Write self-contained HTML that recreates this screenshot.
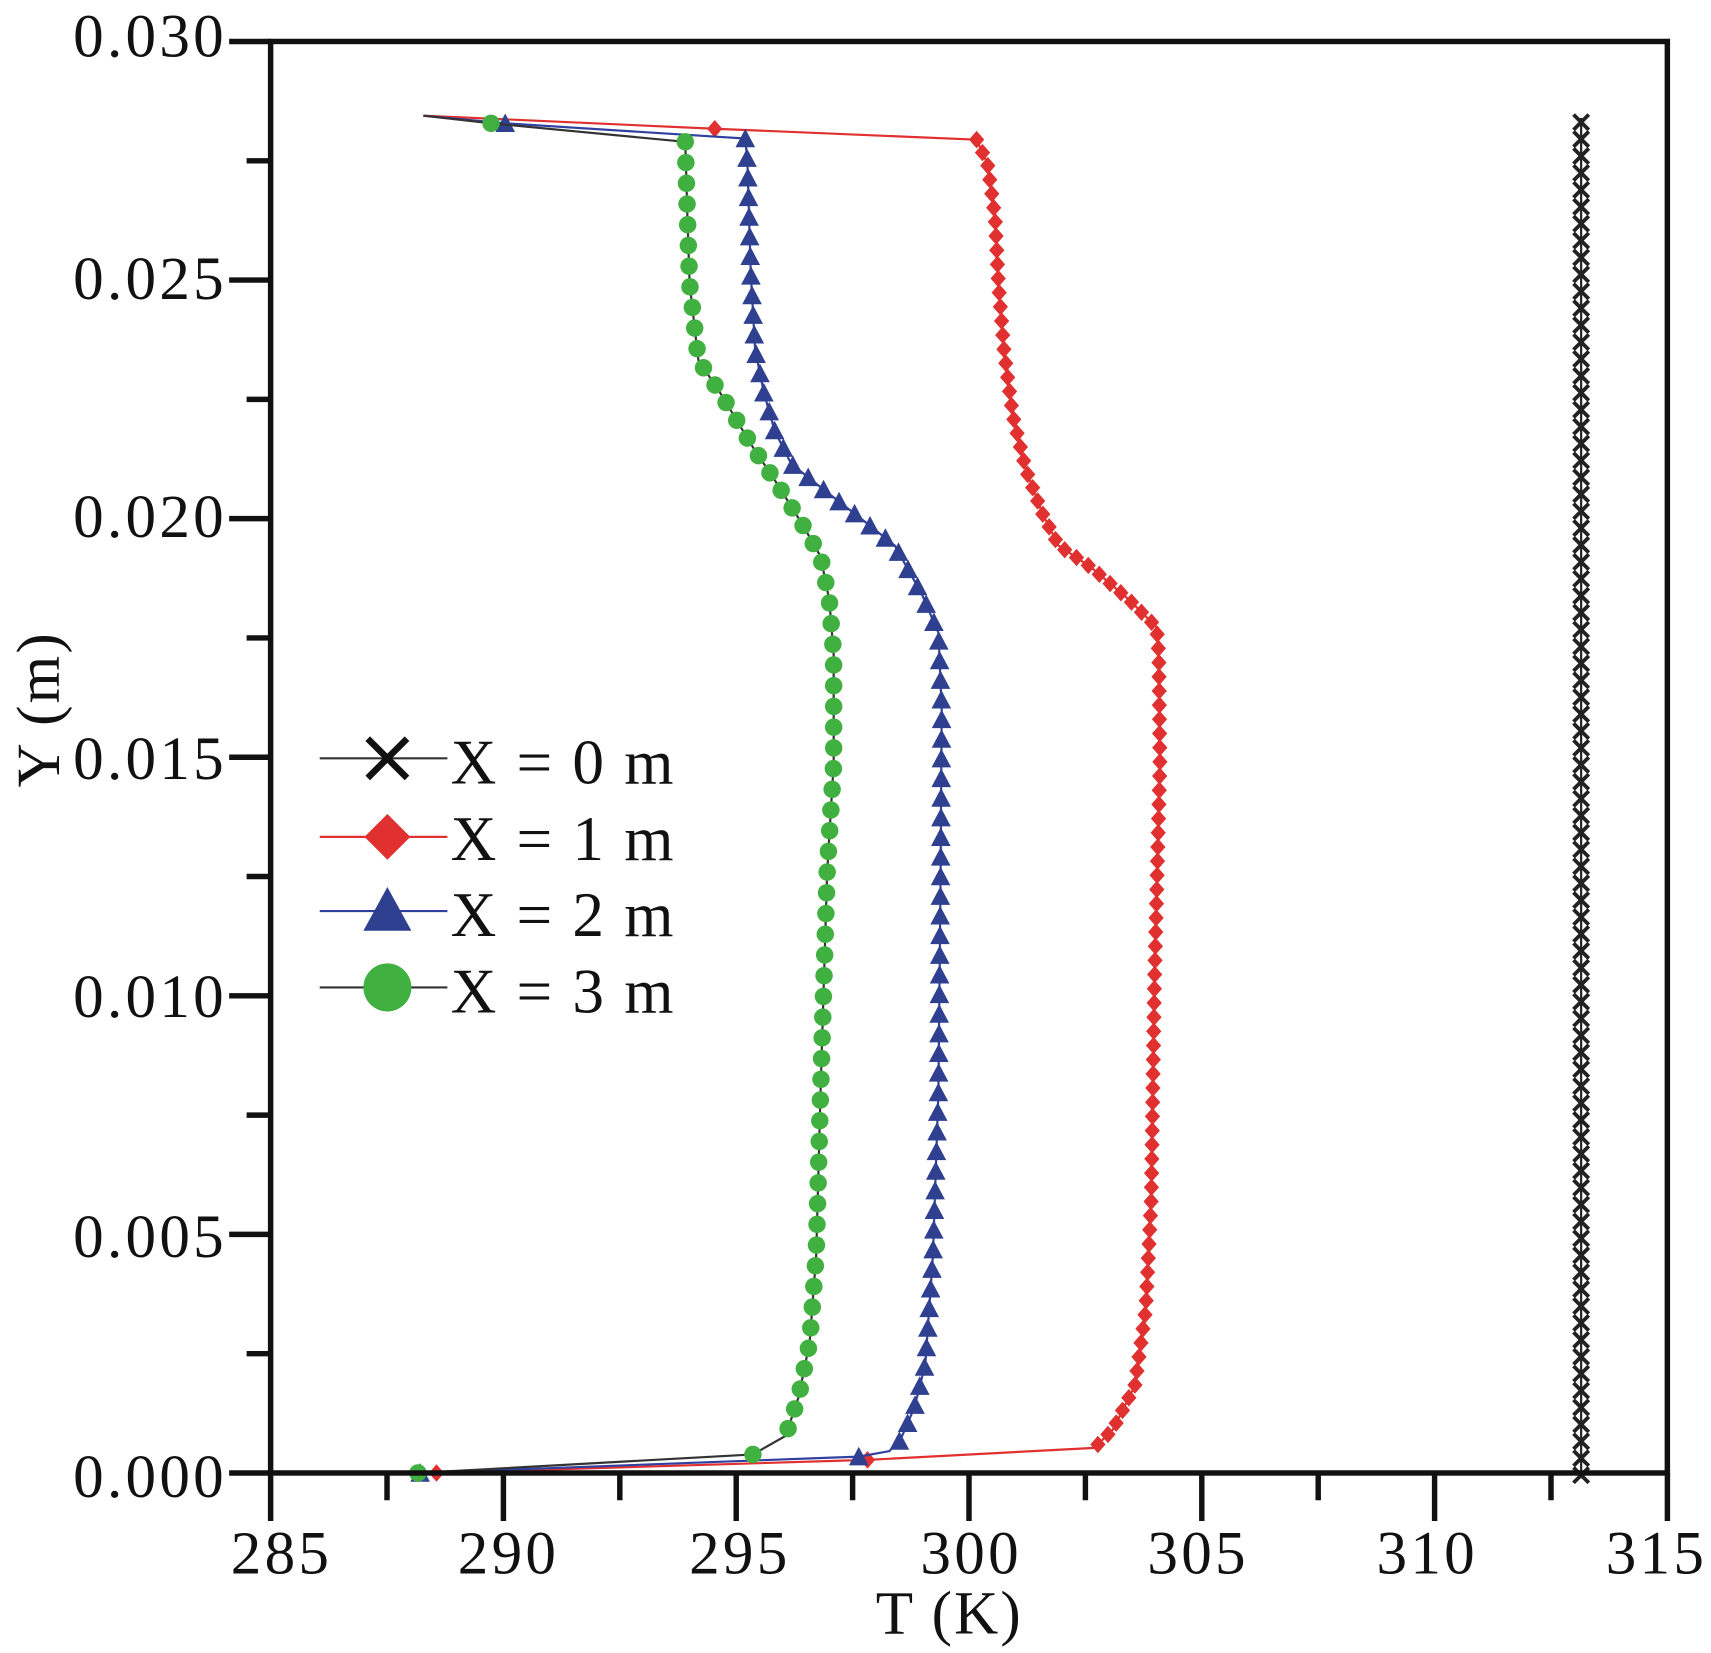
<!DOCTYPE html>
<html><head><meta charset="utf-8"><style>
html,body{margin:0;padding:0;background:#fff}
svg{display:block}
text{font-family:"Liberation Serif",serif;fill:#111}
</style></head><body>
<svg id="s" width="1711" height="1653" viewBox="0 0 1568 1515" preserveAspectRatio="none" xmlns="http://www.w3.org/2000/svg">
<g id="data"></g>
<g stroke="#111" stroke-width="5" fill="none">
<rect x="248" y="38" width="1280" height="1312"/>
</g>
<g id="ticks" stroke="#111" stroke-width="5"></g>
<g font-size="56" text-anchor="middle" letter-spacing="3">
<text x="258" y="1442">285</text><text x="466" y="1442">290</text><text x="678" y="1442">295</text>
<text x="890" y="1442">300</text><text x="1098" y="1442">305</text><text x="1308" y="1442">310</text><text x="1518" y="1442">315</text>
</g>
<g font-size="56" text-anchor="end" letter-spacing="3">
<text x="208" y="52">0.030</text><text x="208" y="274">0.025</text><text x="208" y="492">0.020</text>
<text x="208" y="714">0.015</text><text x="208" y="932">0.010</text><text x="208" y="1152">0.005</text><text x="208" y="1372">0.000</text>
</g>
<text x="870" y="1497" font-size="56" text-anchor="middle" letter-spacing="2">T (K)</text>
<text transform="translate(54,650) rotate(-90)" font-size="56" text-anchor="middle" letter-spacing="2">Y (m)</text>
<g font-size="58" letter-spacing="2">
<line x1="293" y1="695" x2="410" y2="695" stroke="#333" stroke-width="2"/>
<path d="M337 677 L373 713 M373 677 L337 713" stroke="#111" stroke-width="6"/>
<text x="413" y="718">X = 0 m</text>
<line x1="293" y1="767" x2="410" y2="767" stroke="#e03030" stroke-width="2"/>
<path d="M355 746 L376 767 L355 788 L334 767Z" fill="#e03030"/>
<text x="413" y="788">X = 1 m</text>
<line x1="293" y1="835" x2="410" y2="835" stroke="#3040a0" stroke-width="2"/>
<path d="M355 813 L377 853 L333 853Z" fill="#304090"/>
<text x="413" y="858">X = 2 m</text>
<line x1="293" y1="905" x2="410" y2="905" stroke="#333" stroke-width="2"/>
<circle cx="355" cy="905" r="22" fill="#40b040"/>
<text x="413" y="928">X = 3 m</text>
</g>
</svg>
<script>
var NS="http://www.w3.org/2000/svg";
function el(t,a,p){var e=document.createElementNS(NS,t);for(var k in a)e.setAttribute(k,a[k]);(p||document.getElementById('data')).appendChild(e);return e;}
var tk=document.getElementById('ticks');
for(var i=0;i<=12;i++){var x=248+i*106.67;el('line',{x1:x,y1:1350,x2:x,y2:1350+(i%2?25:44)},tk);}
for(var i=0;i<=12;i++){var y=1350-i*109.33;el('line',{x1:248,y1:y,x2:248-(i%2?22:38),y2:y},tk);}
function sample(pts,step){var out=[];var acc=0;out.push(pts[0]);for(var i=1;i<pts.length;i++){var a=pts[i-1],b=pts[i];var dx=b[0]-a[0],dy=b[1]-a[1],L=Math.hypot(dx,dy);var t=step-acc;while(t<=L){out.push([a[0]+dx*t/L,a[1]+dy*t/L]);t+=step;}acc=L-(t-step);}return out;}
function series(top,main,bot,col,lc,mk,step){
 var all=top.concat(main).concat(bot);
 el('polyline',{points:all.map(p=>p.join(',')).join(' '),fill:'none',stroke:lc,'stroke-width':2});
 var m=sample(main,step);
 top.slice(1).forEach(p=>m.push(p));bot.forEach(p=>m.push(p));
 m.forEach(p=>mk(p[0],p[1],col));
}
function dia(x,y,c){el('path',{d:`M${x} ${y-8}L${x+7} ${y}L${x} ${y+8}L${x-7} ${y}Z`,fill:c});}
function tri(x,y,c){el('path',{d:`M${x} ${y-9}L${x+9} ${y+8}L${x-9} ${y+8}Z`,fill:c});}
function cir(x,y,c){el('circle',{cx:x,cy:y,r:8,fill:c});}
el('line',{x1:1449,y1:108,x2:1449,y2:1355,stroke:'#222','stroke-width':2});
for(var y=112;y<=1352;y+=15.5){el('path',{d:`M${1442} ${y-7}L${1456} ${y+7}M${1456} ${y-7}L${1442} ${y+7}`,stroke:'#222','stroke-width':3.5});}
series([[388,106],[655,118]],[[895,128],[905,150],[912,200],[915,260],[920,320],[928,380],[940,430],[955,470],[970,500],[1000,520],[1035,550],[1060,575],[1062,600],[1063,700],[1058,900],[1055,1100],[1050,1200],[1040,1270],[1020,1310],[1003,1327]],[[795,1338],[400,1350]],'#e03030','#e03030',dia,13);
series([[388,106],[463,113]],[[683,127],[685,150],[688,250],[692,320],[700,360],[710,395],[725,425],[750,445],[795,480],[820,500],[845,545],[860,580],[863,650],[862,800],[860,1000],[855,1150],[848,1250],[838,1290],[825,1320],[815,1330]],[[787,1335],[385,1350]],'#304090','#3040a0',tri,18);
series([[388,106],[450,113]],[[628,130],[630,200],[632,260],[640,330],[660,360],[690,410],[710,440],[735,480],[752,510],[760,550],[764,600],[764,700],[758,800],[755,900],[752,1000],[748,1150],[742,1230],[732,1280],[720,1316]],[[690,1333],[383,1350]],'#40b040','#333',cir,19);
</script>
</body></html>
